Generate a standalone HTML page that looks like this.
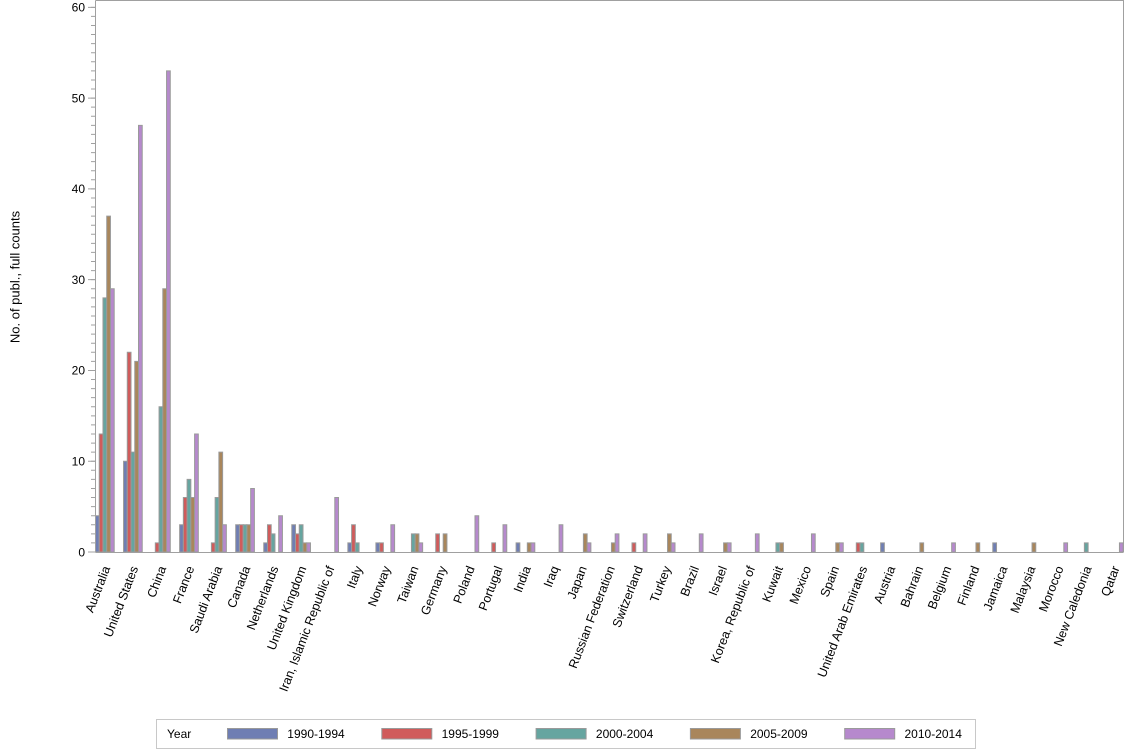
<!DOCTYPE html>
<html><head><meta charset="utf-8"><style>
html,body{margin:0;padding:0;background:#fff;}
svg{display:block;}
text{font-family:"Liberation Sans",Arial,sans-serif;font-size:12px;fill:#000;}
.xl text{font-size:12.5px;}
.c0{fill:#6F7EB3}.c1{fill:#D05B5B}.c2{fill:#66A5A0}.c3{fill:#A9865B}.c4{fill:#B689CD}
.b rect{stroke:#9a9a9a;stroke-width:1;vector-effect:non-scaling-stroke;}
</style></head><body>
<svg width="1134" height="756" viewBox="0 0 1134 756" xmlns="http://www.w3.org/2000/svg">
<rect x="0" y="0" width="1134" height="756" fill="#fff"/>
<!-- frame -->
<path d="M95.5,0.5 H1123.5 V552" fill="none" stroke="#a0a0a0" stroke-width="1"/>
<!-- bars -->
<g class="b">
<g transform="translate(95.5,552) scale(1,-9.078)"><rect class="c0" x="0" y="0" width="3.74" height="4"/><rect class="c1" x="3.74" y="0" width="3.74" height="13"/><rect class="c2" x="7.48" y="0" width="3.74" height="28"/><rect class="c3" x="11.22" y="0" width="3.74" height="37"/><rect class="c4" x="14.96" y="0" width="3.74" height="29"/></g>
<g transform="translate(123.54,552) scale(1,-9.078)"><rect class="c0" x="0" y="0" width="3.74" height="10"/><rect class="c1" x="3.74" y="0" width="3.74" height="22"/><rect class="c2" x="7.48" y="0" width="3.74" height="11"/><rect class="c3" x="11.22" y="0" width="3.74" height="21"/><rect class="c4" x="14.96" y="0" width="3.74" height="47"/></g>
<g transform="translate(151.58,552) scale(1,-9.078)"><rect class="c1" x="3.74" y="0" width="3.74" height="1"/><rect class="c2" x="7.48" y="0" width="3.74" height="16"/><rect class="c3" x="11.22" y="0" width="3.74" height="29"/><rect class="c4" x="14.96" y="0" width="3.74" height="53"/></g>
<g transform="translate(179.62,552) scale(1,-9.078)"><rect class="c0" x="0" y="0" width="3.74" height="3"/><rect class="c1" x="3.74" y="0" width="3.74" height="6"/><rect class="c2" x="7.48" y="0" width="3.74" height="8"/><rect class="c3" x="11.22" y="0" width="3.74" height="6"/><rect class="c4" x="14.96" y="0" width="3.74" height="13"/></g>
<g transform="translate(207.66,552) scale(1,-9.078)"><rect class="c1" x="3.74" y="0" width="3.74" height="1"/><rect class="c2" x="7.48" y="0" width="3.74" height="6"/><rect class="c3" x="11.22" y="0" width="3.74" height="11"/><rect class="c4" x="14.96" y="0" width="3.74" height="3"/></g>
<g transform="translate(235.7,552) scale(1,-9.078)"><rect class="c0" x="0" y="0" width="3.74" height="3"/><rect class="c1" x="3.74" y="0" width="3.74" height="3"/><rect class="c2" x="7.48" y="0" width="3.74" height="3"/><rect class="c3" x="11.22" y="0" width="3.74" height="3"/><rect class="c4" x="14.96" y="0" width="3.74" height="7"/></g>
<g transform="translate(263.74,552) scale(1,-9.078)"><rect class="c0" x="0" y="0" width="3.74" height="1"/><rect class="c1" x="3.74" y="0" width="3.74" height="3"/><rect class="c2" x="7.48" y="0" width="3.74" height="2"/><rect class="c4" x="14.96" y="0" width="3.74" height="4"/></g>
<g transform="translate(291.78,552) scale(1,-9.078)"><rect class="c0" x="0" y="0" width="3.74" height="3"/><rect class="c1" x="3.74" y="0" width="3.74" height="2"/><rect class="c2" x="7.48" y="0" width="3.74" height="3"/><rect class="c3" x="11.22" y="0" width="3.74" height="1"/><rect class="c4" x="14.96" y="0" width="3.74" height="1"/></g>
<g transform="translate(319.82,552) scale(1,-9.078)"><rect class="c4" x="14.96" y="0" width="3.74" height="6"/></g>
<g transform="translate(347.86,552) scale(1,-9.078)"><rect class="c0" x="0" y="0" width="3.74" height="1"/><rect class="c1" x="3.74" y="0" width="3.74" height="3"/><rect class="c2" x="7.48" y="0" width="3.74" height="1"/></g>
<g transform="translate(375.9,552) scale(1,-9.078)"><rect class="c0" x="0" y="0" width="3.74" height="1"/><rect class="c1" x="3.74" y="0" width="3.74" height="1"/><rect class="c4" x="14.96" y="0" width="3.74" height="3"/></g>
<g transform="translate(403.94,552) scale(1,-9.078)"><rect class="c2" x="7.48" y="0" width="3.74" height="2"/><rect class="c3" x="11.22" y="0" width="3.74" height="2"/><rect class="c4" x="14.96" y="0" width="3.74" height="1"/></g>
<g transform="translate(431.98,552) scale(1,-9.078)"><rect class="c1" x="3.74" y="0" width="3.74" height="2"/><rect class="c3" x="11.22" y="0" width="3.74" height="2"/></g>
<g transform="translate(460.02,552) scale(1,-9.078)"><rect class="c4" x="14.96" y="0" width="3.74" height="4"/></g>
<g transform="translate(488.06,552) scale(1,-9.078)"><rect class="c1" x="3.74" y="0" width="3.74" height="1"/><rect class="c4" x="14.96" y="0" width="3.74" height="3"/></g>
<g transform="translate(516.1,552) scale(1,-9.078)"><rect class="c0" x="0" y="0" width="3.74" height="1"/><rect class="c3" x="11.22" y="0" width="3.74" height="1"/><rect class="c4" x="14.96" y="0" width="3.74" height="1"/></g>
<g transform="translate(544.14,552) scale(1,-9.078)"><rect class="c4" x="14.96" y="0" width="3.74" height="3"/></g>
<g transform="translate(572.18,552) scale(1,-9.078)"><rect class="c3" x="11.22" y="0" width="3.74" height="2"/><rect class="c4" x="14.96" y="0" width="3.74" height="1"/></g>
<g transform="translate(600.22,552) scale(1,-9.078)"><rect class="c3" x="11.22" y="0" width="3.74" height="1"/><rect class="c4" x="14.96" y="0" width="3.74" height="2"/></g>
<g transform="translate(628.26,552) scale(1,-9.078)"><rect class="c1" x="3.74" y="0" width="3.74" height="1"/><rect class="c4" x="14.96" y="0" width="3.74" height="2"/></g>
<g transform="translate(656.3,552) scale(1,-9.078)"><rect class="c3" x="11.22" y="0" width="3.74" height="2"/><rect class="c4" x="14.96" y="0" width="3.74" height="1"/></g>
<g transform="translate(684.34,552) scale(1,-9.078)"><rect class="c4" x="14.96" y="0" width="3.74" height="2"/></g>
<g transform="translate(712.38,552) scale(1,-9.078)"><rect class="c3" x="11.22" y="0" width="3.74" height="1"/><rect class="c4" x="14.96" y="0" width="3.74" height="1"/></g>
<g transform="translate(740.42,552) scale(1,-9.078)"><rect class="c4" x="14.96" y="0" width="3.74" height="2"/></g>
<g transform="translate(768.46,552) scale(1,-9.078)"><rect class="c2" x="7.48" y="0" width="3.74" height="1"/><rect class="c3" x="11.22" y="0" width="3.74" height="1"/></g>
<g transform="translate(796.5,552) scale(1,-9.078)"><rect class="c4" x="14.96" y="0" width="3.74" height="2"/></g>
<g transform="translate(824.54,552) scale(1,-9.078)"><rect class="c3" x="11.22" y="0" width="3.74" height="1"/><rect class="c4" x="14.96" y="0" width="3.74" height="1"/></g>
<g transform="translate(852.58,552) scale(1,-9.078)"><rect class="c1" x="3.74" y="0" width="3.74" height="1"/><rect class="c2" x="7.48" y="0" width="3.74" height="1"/></g>
<g transform="translate(880.62,552) scale(1,-9.078)"><rect class="c0" x="0" y="0" width="3.74" height="1"/></g>
<g transform="translate(908.66,552) scale(1,-9.078)"><rect class="c3" x="11.22" y="0" width="3.74" height="1"/></g>
<g transform="translate(936.7,552) scale(1,-9.078)"><rect class="c4" x="14.96" y="0" width="3.74" height="1"/></g>
<g transform="translate(964.74,552) scale(1,-9.078)"><rect class="c3" x="11.22" y="0" width="3.74" height="1"/></g>
<g transform="translate(992.78,552) scale(1,-9.078)"><rect class="c0" x="0" y="0" width="3.74" height="1"/></g>
<g transform="translate(1020.82,552) scale(1,-9.078)"><rect class="c3" x="11.22" y="0" width="3.74" height="1"/></g>
<g transform="translate(1048.86,552) scale(1,-9.078)"><rect class="c4" x="14.96" y="0" width="3.74" height="1"/></g>
<g transform="translate(1076.9,552) scale(1,-9.078)"><rect class="c2" x="7.48" y="0" width="3.74" height="1"/></g>
<g transform="translate(1104.94,552) scale(1,-9.078)"><rect class="c4" x="14.5" y="0" width="3.74" height="1"/></g>
</g>
<!-- axes -->
<path d="M95.5,0.5 V552.5 M95.5,552.5 H1123.5" fill="none" stroke="#a0a0a0" stroke-width="1"/>
<!-- minor ticks -->
<path d="M93.25,552.5 V6" fill="none" stroke="#a0a0a0" stroke-width="4.5" stroke-dasharray="1 8.078"/>
<!-- major ticks -->
<path d="M88,552 H95.5 M88,461.22 H95.5 M88,370.44 H95.5 M88,279.66 H95.5 M88,188.88 H95.5 M88,98.1 H95.5 M88,7.32 H95.5" fill="none" stroke="#a0a0a0" stroke-width="1"/>
<!-- y tick labels -->
<g text-anchor="end">
<text x="85" y="556.3">0</text>
<text x="85" y="465.5">10</text>
<text x="85" y="374.7">20</text>
<text x="85" y="284">30</text>
<text x="85" y="193.2">40</text>
<text x="85" y="102.4">50</text>
<text x="85" y="11.6">60</text>
</g>
<text transform="translate(19.5,277) rotate(-90)" text-anchor="middle" style="font-size:13px">No. of publ., full counts</text>
<!-- x labels -->
<g text-anchor="end" class="xl">
<text transform="translate(110.35,568) rotate(-69)">Australia</text>
<text transform="translate(138.39,568) rotate(-69)">United States</text>
<text transform="translate(166.43,568) rotate(-69)">China</text>
<text transform="translate(194.47,568) rotate(-69)">France</text>
<text transform="translate(222.51,568) rotate(-69)">Saudi Arabia</text>
<text transform="translate(250.55,568) rotate(-69)">Canada</text>
<text transform="translate(278.59,568) rotate(-69)">Netherlands</text>
<text transform="translate(306.63,568) rotate(-69)">United Kingdom</text>
<text transform="translate(334.67,568) rotate(-69)">Iran, Islamic Republic of</text>
<text transform="translate(362.71,568) rotate(-69)">Italy</text>
<text transform="translate(390.75,568) rotate(-69)">Norway</text>
<text transform="translate(418.79,568) rotate(-69)">Taiwan</text>
<text transform="translate(446.83,568) rotate(-69)">Germany</text>
<text transform="translate(474.87,568) rotate(-69)">Poland</text>
<text transform="translate(502.91,568) rotate(-69)">Portugal</text>
<text transform="translate(530.95,568) rotate(-69)">India</text>
<text transform="translate(558.99,568) rotate(-69)">Iraq</text>
<text transform="translate(587.03,568) rotate(-69)">Japan</text>
<text transform="translate(615.07,568) rotate(-69)">Russian Federation</text>
<text transform="translate(643.11,568) rotate(-69)">Switzerland</text>
<text transform="translate(671.15,568) rotate(-69)">Turkey</text>
<text transform="translate(699.19,568) rotate(-69)">Brazil</text>
<text transform="translate(727.23,568) rotate(-69)">Israel</text>
<text transform="translate(755.27,568) rotate(-69)">Korea, Republic of</text>
<text transform="translate(783.31,568) rotate(-69)">Kuwait</text>
<text transform="translate(811.35,568) rotate(-69)">Mexico</text>
<text transform="translate(839.39,568) rotate(-69)">Spain</text>
<text transform="translate(867.43,568) rotate(-69)">United Arab Emirates</text>
<text transform="translate(895.47,568) rotate(-69)">Austria</text>
<text transform="translate(923.51,568) rotate(-69)">Bahrain</text>
<text transform="translate(951.55,568) rotate(-69)">Belgium</text>
<text transform="translate(979.59,568) rotate(-69)">Finland</text>
<text transform="translate(1007.63,568) rotate(-69)">Jamaica</text>
<text transform="translate(1035.67,568) rotate(-69)">Malaysia</text>
<text transform="translate(1063.71,568) rotate(-69)">Morocco</text>
<text transform="translate(1091.75,568) rotate(-69)">New Caledonia</text>
<text transform="translate(1119.79,568) rotate(-69)">Qatar</text>
</g>
<!-- legend -->
<rect x="156.5" y="719.5" width="819" height="29" fill="#fff" stroke="#c8c8c8" stroke-width="1"/>
<text x="167" y="738">Year</text>
<g stroke="#9a9a9a" stroke-width="1">
<rect class="c0" x="227.5" y="728.5" width="50" height="10.5"/>
<rect class="c1" x="381.8" y="728.5" width="50" height="10.5"/>
<rect class="c2" x="536.1" y="728.5" width="50" height="10.5"/>
<rect class="c3" x="690.4" y="728.5" width="50" height="10.5"/>
<rect class="c4" x="844.7" y="728.5" width="50" height="10.5"/>
</g>
<text x="287.3" y="738">1990-1994</text>
<text x="441.6" y="738">1995-1999</text>
<text x="595.9" y="738">2000-2004</text>
<text x="750.2" y="738">2005-2009</text>
<text x="904.5" y="738">2010-2014</text>
</svg>
</body></html>
